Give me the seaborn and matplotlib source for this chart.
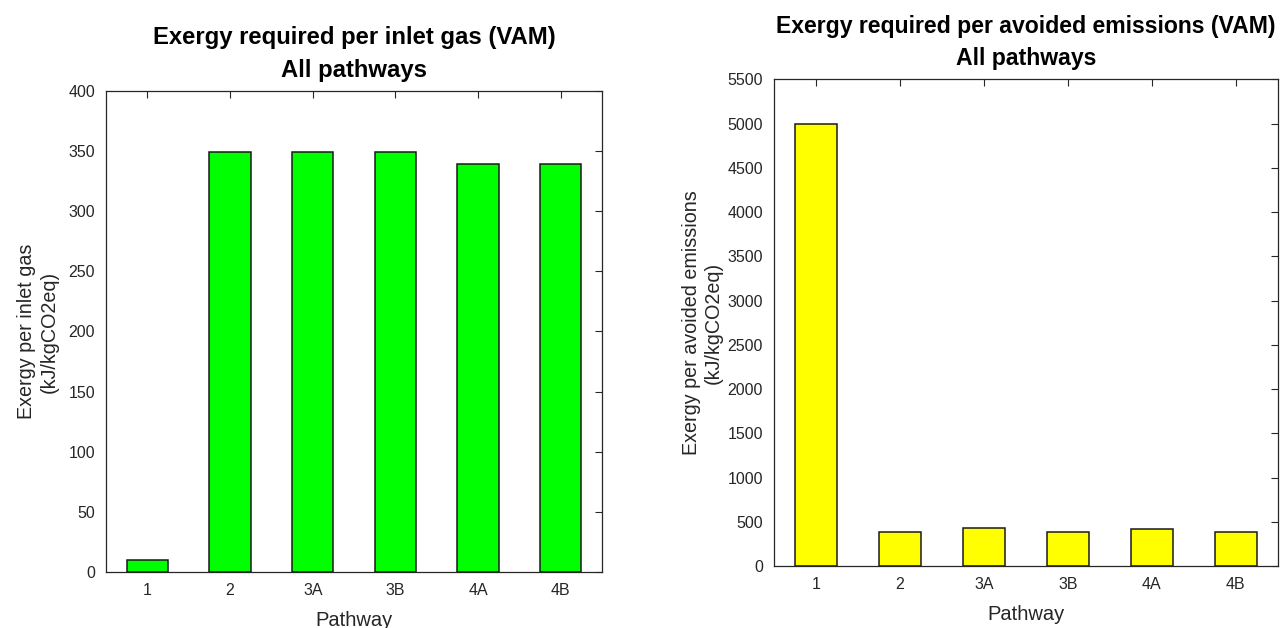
import matplotlib
matplotlib.use("Agg")
import matplotlib.pyplot as plt
import pandas as pd
import seaborn as sns

pathways = ['1', '2', '3A', '3B', '4A', '4B']
exergy_inlet = [10, 349, 349, 349, 339, 339]
exergy_avoided = [5000, 390, 424, 390, 413, 379]

sns.set_style('white')
plt.rcParams['font.family'] = ['Liberation Sans', 'DejaVu Sans']

fig = plt.figure(figsize=(12.82, 6.28), dpi=100)
ax1 = fig.add_axes([0.0827, 0.0892, 0.387, 0.766])
ax2 = fig.add_axes([0.6037, 0.0987, 0.3931, 0.775])

df1 = pd.DataFrame({'Pathway': pathways, 'val': exergy_inlet})
df2 = pd.DataFrame({'Pathway': pathways, 'val': exergy_avoided})

sns.barplot(data=df1, x='Pathway', y='val', color='#00ff00', saturation=1,
            width=0.5, edgecolor='#1a1a1a', linewidth=1.1, ax=ax1)
sns.barplot(data=df2, x='Pathway', y='val', color='#ffff00', saturation=1,
            width=0.5, edgecolor='#1a1a1a', linewidth=1.1, ax=ax2)

def style(ax, ymax, step, ylabel, title, ypad, tsize):
    ax.set_xlim(-0.5, 5.5)
    ax.set_ylim(0, ymax)
    ax.set_yticks(range(0, ymax + 1, step))
    ax.set_xlabel('Pathway', fontsize=14.5, color='#262626', labelpad=9)
    ax.set_ylabel(ylabel, fontsize=14.2, color='#262626', labelpad=ypad)
    ax.set_title(title, fontsize=tsize, fontweight='bold', color='black',
                 pad=10, linespacing=1.55)
    ax.tick_params(direction='in', length=5, width=0.8, top=True, right=True,
                   labelsize=11.5, labelcolor='#262626', color='#262626', pad=8)
    for s in ax.spines.values():
        s.set_visible(True)
        s.set_color('#262626')
        s.set_linewidth(0.9)

style(ax1, 400, 50, 'Exergy per inlet gas\n(kJ/kgCO2eq)',
      'Exergy required per inlet gas (VAM)\nAll pathways', 7, 17.2)
style(ax2, 5500, 500, 'Exergy per avoided emissions\n(kJ/kgCO2eq)',
      'Exergy required per avoided emissions (VAM)\nAll pathways', 3, 16.6)

fig.savefig('out.png', dpi=100)
